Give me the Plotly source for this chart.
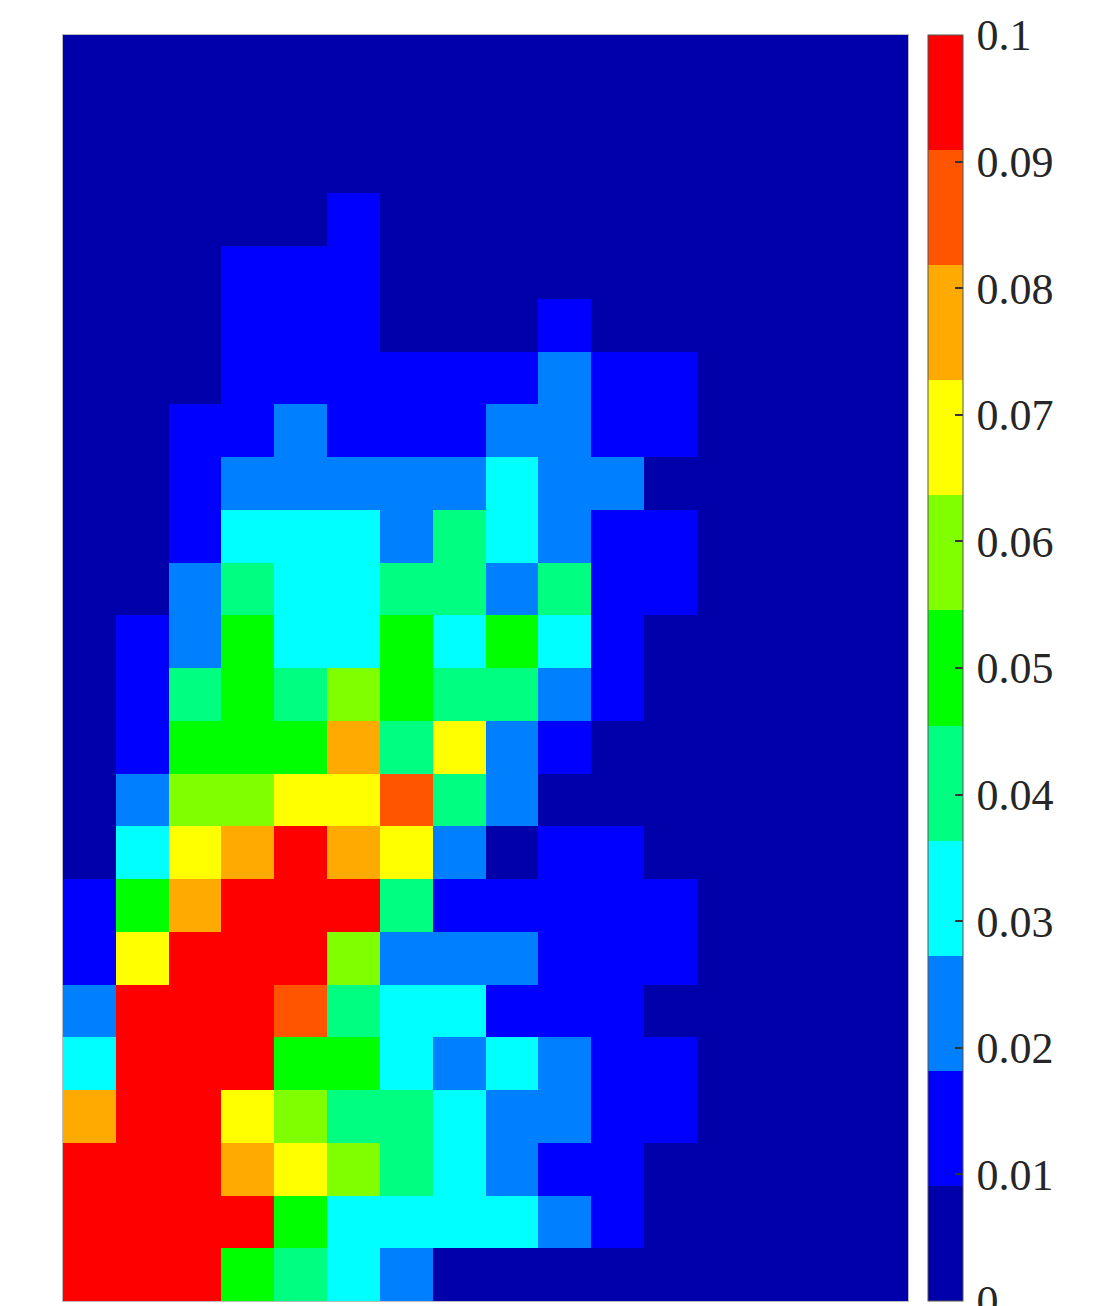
import plotly.graph_objects as go

# Colour levels of the discrete jet-like map (11 bins over 0..0.1)
level_colors = ["#0000AA", "#0000FF", "#0080FF", "#00FFFF", "#00FF80", "#00FF00",
                "#80FF00", "#FFFF00", "#FFAA00", "#FF5500", "#FF0000"]
zmin, zmax = 0.0, 0.1
tick_vals = [0, 0.01, 0.02, 0.03, 0.04, 0.05, 0.06, 0.07, 0.08, 0.09, 0.1]
tick_text = ["0", "0.01", "0.02", "0.03", "0.04", "0.05", "0.06", "0.07", "0.08", "0.09", "0.1"]

# Grid values, top row first (24 rows x 16 columns)
values = [
    [0.004, 0.004, 0.004, 0.004, 0.004, 0.004, 0.004, 0.004, 0.004, 0.004, 0.004, 0.004, 0.004, 0.004, 0.004, 0.004],
    [0.004, 0.004, 0.004, 0.004, 0.004, 0.004, 0.004, 0.004, 0.004, 0.004, 0.004, 0.004, 0.004, 0.004, 0.004, 0.004],
    [0.004, 0.004, 0.004, 0.004, 0.004, 0.004, 0.004, 0.004, 0.004, 0.004, 0.004, 0.004, 0.004, 0.004, 0.004, 0.004],
    [0.004, 0.004, 0.004, 0.004, 0.004, 0.014, 0.004, 0.004, 0.004, 0.004, 0.004, 0.004, 0.004, 0.004, 0.004, 0.004],
    [0.004, 0.004, 0.004, 0.014, 0.014, 0.014, 0.004, 0.004, 0.004, 0.004, 0.004, 0.004, 0.004, 0.004, 0.004, 0.004],
    [0.004, 0.004, 0.004, 0.014, 0.014, 0.014, 0.004, 0.004, 0.004, 0.014, 0.004, 0.004, 0.004, 0.004, 0.004, 0.004],
    [0.004, 0.004, 0.004, 0.014, 0.014, 0.014, 0.014, 0.014, 0.014, 0.023, 0.014, 0.014, 0.004, 0.004, 0.004, 0.004],
    [0.004, 0.004, 0.014, 0.014, 0.023, 0.014, 0.014, 0.014, 0.023, 0.023, 0.014, 0.014, 0.004, 0.004, 0.004, 0.004],
    [0.004, 0.004, 0.014, 0.023, 0.023, 0.023, 0.023, 0.023, 0.032, 0.023, 0.023, 0.004, 0.004, 0.004, 0.004, 0.004],
    [0.004, 0.004, 0.014, 0.032, 0.032, 0.032, 0.023, 0.041, 0.032, 0.023, 0.014, 0.014, 0.004, 0.004, 0.004, 0.004],
    [0.004, 0.004, 0.023, 0.041, 0.032, 0.032, 0.041, 0.041, 0.023, 0.041, 0.014, 0.014, 0.004, 0.004, 0.004, 0.004],
    [0.004, 0.014, 0.023, 0.050, 0.032, 0.032, 0.050, 0.032, 0.050, 0.032, 0.014, 0.004, 0.004, 0.004, 0.004, 0.004],
    [0.004, 0.014, 0.041, 0.050, 0.041, 0.059, 0.050, 0.041, 0.041, 0.023, 0.014, 0.004, 0.004, 0.004, 0.004, 0.004],
    [0.004, 0.014, 0.050, 0.050, 0.050, 0.077, 0.041, 0.068, 0.023, 0.014, 0.004, 0.004, 0.004, 0.004, 0.004, 0.004],
    [0.004, 0.023, 0.059, 0.059, 0.068, 0.068, 0.086, 0.041, 0.023, 0.004, 0.004, 0.004, 0.004, 0.004, 0.004, 0.004],
    [0.004, 0.032, 0.068, 0.077, 0.100, 0.077, 0.068, 0.023, 0.004, 0.014, 0.014, 0.004, 0.004, 0.004, 0.004, 0.004],
    [0.014, 0.050, 0.077, 0.100, 0.100, 0.100, 0.041, 0.014, 0.014, 0.014, 0.014, 0.014, 0.004, 0.004, 0.004, 0.004],
    [0.014, 0.068, 0.100, 0.100, 0.100, 0.059, 0.023, 0.023, 0.023, 0.014, 0.014, 0.014, 0.004, 0.004, 0.004, 0.004],
    [0.023, 0.100, 0.100, 0.100, 0.086, 0.041, 0.032, 0.032, 0.014, 0.014, 0.014, 0.004, 0.004, 0.004, 0.004, 0.004],
    [0.032, 0.100, 0.100, 0.100, 0.050, 0.050, 0.032, 0.023, 0.032, 0.023, 0.014, 0.014, 0.004, 0.004, 0.004, 0.004],
    [0.077, 0.100, 0.100, 0.068, 0.059, 0.041, 0.041, 0.032, 0.023, 0.023, 0.014, 0.014, 0.004, 0.004, 0.004, 0.004],
    [0.100, 0.100, 0.100, 0.077, 0.068, 0.059, 0.041, 0.032, 0.023, 0.014, 0.014, 0.004, 0.004, 0.004, 0.004, 0.004],
    [0.100, 0.100, 0.100, 0.100, 0.050, 0.032, 0.032, 0.032, 0.032, 0.023, 0.014, 0.004, 0.004, 0.004, 0.004, 0.004],
    [0.100, 0.100, 0.100, 0.050, 0.041, 0.032, 0.023, 0.004, 0.004, 0.004, 0.004, 0.004, 0.004, 0.004, 0.004, 0.004],
]
col_index = list(range(16))
row_index = list(range(24))

# stepped colorscale
n = len(level_colors)
colorscale = []
for i, c in enumerate(level_colors):
    colorscale.append([i / n, c])
    colorscale.append([(i + 1) / n, c])

# the page body has an 8px margin, so the figure is drawn 8px in from the top-left
OFF = 8
W, H = 1098 - OFF, 1306 - OFF
L, R, T, B = 63 - OFF, 190, 35 - OFF, 5
plot_w = W - L - R

fig = go.Figure(go.Heatmap(
    z=values, x=col_index, y=row_index,
    zmin=zmin, zmax=zmax, colorscale=colorscale,
    xgap=0, ygap=0,
    colorbar=dict(
        thickness=35, thicknessmode="pixels",
        len=1, lenmode="fraction", y=0, yanchor="bottom",
        x=(928 - 63) / plot_w, xanchor="left", xpad=0, ypad=0,
        outlinewidth=1, outlinecolor="#555555",
        tickmode="array", tickvals=tick_vals,
        ticktext=["\u200a" + t for t in tick_text],
        ticks="inside", ticklen=8, tickwidth=1.5, tickcolor="#333333",
        ticklabeloverflow="allow",
        tickfont=dict(family="Liberation Serif", size=44, color="#262626"),
    ),
))

fig.update_xaxes(range=[-0.5, 15.5], showticklabels=False, ticks="", showgrid=False,
                 zeroline=False, showline=True, mirror=True, linecolor="#bbbbbb", linewidth=1)
fig.update_yaxes(range=[23.5, -0.5], showticklabels=False, ticks="", showgrid=False,
                 zeroline=False, showline=True, mirror=True, linecolor="#bbbbbb", linewidth=1)

fig.update_layout(
    width=W, height=H,
    margin=dict(l=L, r=R, t=T, b=B, pad=0),
    paper_bgcolor="white", plot_bgcolor="white",
)

fig.write_html("out.html")
